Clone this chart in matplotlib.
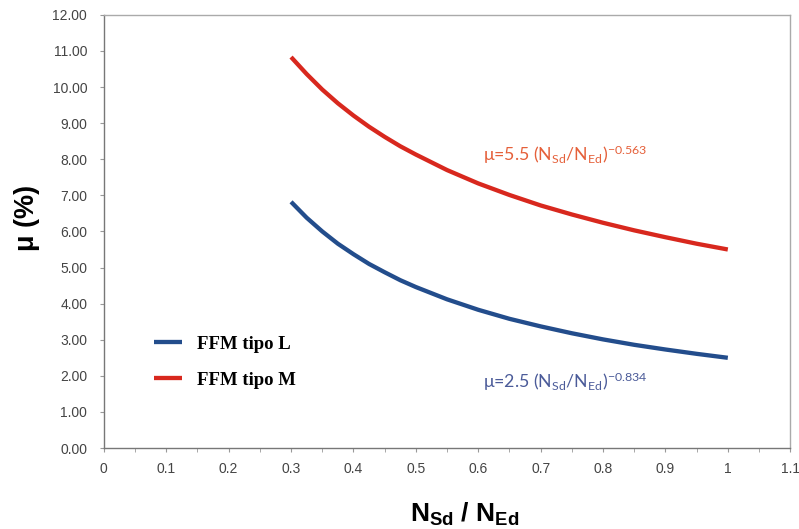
import matplotlib
matplotlib.use("Agg")
import matplotlib.pyplot as plt
from matplotlib.ticker import MultipleLocator, FormatStrFormatter

# values
ratio = [0.300, 0.325, 0.350, 0.375, 0.400, 0.425, 0.450, 0.475, 0.50, 0.55, 0.60, 0.65,
         0.70, 0.75, 0.80, 0.85, 0.90, 0.95, 1.00]
mu_M = [10.83, 10.36, 9.93, 9.55, 9.21, 8.90, 8.62, 8.36, 8.13, 7.70, 7.33, 7.01,
        6.72, 6.47, 6.24, 6.03, 5.84, 5.66, 5.50]
mu_L = [6.82, 6.38, 6.00, 5.66, 5.37, 5.10, 4.87, 4.65, 4.46, 4.12, 3.83, 3.58,
        3.37, 3.18, 3.01, 2.86, 2.73, 2.61, 2.50]

label_L = "FFM tipo L"
label_M = "FFM tipo M"
eq_M = r"μ=5.5 (N$\mathregular{_{Sd}}$/N$\mathregular{_{Ed}}$)$\mathregular{^{-0.563}}$"
eq_L = r"μ=2.5 (N$\mathregular{_{Sd}}$/N$\mathregular{_{Ed}}$)$\mathregular{^{-0.834}}$"

blue = "#234d8c"
red = "#d8281e"

plt.rcParams["font.family"] = ["Liberation Sans", "DejaVu Sans"]

fig = plt.figure(figsize=(7.99, 5.29), dpi=100)
ax = fig.add_axes([0.130, 0.153, 0.859, 0.819])

ax.plot(ratio, mu_L, color=blue, lw=3.1, label=label_L, solid_capstyle="butt")
ax.plot(ratio, mu_M, color=red, lw=3.1, label=label_M, solid_capstyle="butt")

ax.set_xlim(0, 1.1)
ax.set_ylim(0, 12)
ax.xaxis.set_minor_locator(MultipleLocator(0.05))
ax.yaxis.set_major_locator(MultipleLocator(1))
ax.yaxis.set_major_formatter(FormatStrFormatter("%.2f"))
ax.set_xticks([0, 0.1, 0.2, 0.3, 0.4, 0.5, 0.6, 0.7, 0.8, 0.9, 1.0, 1.1])
ax.set_xticklabels(["0", "0.1", "0.2", "0.3", "0.4", "0.5", "0.6", "0.7", "0.8", "0.9", "1", "1.1"])

for s in ax.spines.values():
    s.set_color("#aaaaaa")
    s.set_linewidth(1.0)
ax.spines["left"].set_color("#777777")
ax.spines["bottom"].set_color("#777777")
ax.tick_params(axis="both", which="both", direction="out", length=3, color="#999999",
               labelsize=10, labelcolor="#444444")
ax.tick_params(axis="x", which="major", pad=7)
ax.tick_params(axis="y", pad=9)

ax.set_ylabel("μ (%)", fontsize=19.5, fontweight="bold")
ax.yaxis.set_label_coords(-0.093, 0.531)
ax.set_xlabel(r"N$\mathregular{_{Sd}}$ / N$\mathregular{_{Ed}}$", fontsize=19, fontweight="bold")
ax.xaxis.set_label_coords(0.526, -0.122)

ax.text(0.608, 8.12, eq_M, color="#e5603a", fontsize=12.8, family=["Lato", "DejaVu Sans"], va="center")
ax.text(0.608, 1.83, eq_L, color="#4b5b99", fontsize=12.8, family=["Lato", "DejaVu Sans"], va="center")

leg = ax.legend(loc="lower left", bbox_to_anchor=(0.048, 0.098), frameon=False, handlelength=1.5,
                handletextpad=0.8, labelspacing=1.0,
                prop={"family": ["Liberation Serif"], "weight": "bold", "size": 13.5})

fig.savefig("out.png", dpi=100)
